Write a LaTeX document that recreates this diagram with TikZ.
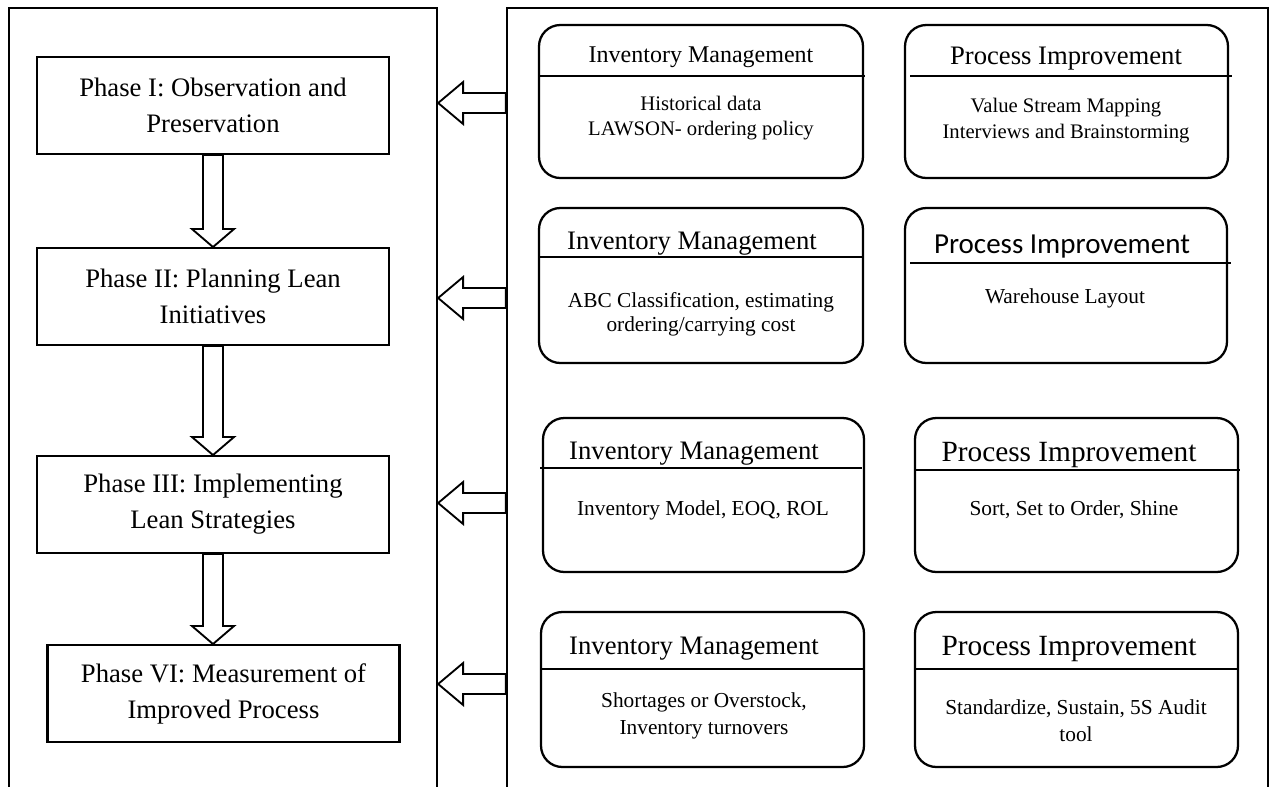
\documentclass[tikz,border=0pt]{standalone}
\usepackage{fontspec}
\setmainfont{Liberation Serif}
\newfontfamily\calibrifont{Carlito}
\usetikzlibrary{calc,fit}

\tikzset{
	panel/.style={draw, line width=1.7pt, inner sep=0pt},
	phase/.style={draw, line width=1.7pt, minimum width=264pt, minimum height=72.5pt,
		align=center, font=\fontsize{20}{27}\selectfont},
	group/.style={draw, line width=1.7pt, rounded corners=16pt, inner sep=0pt},
	rule/.style={line width=1.4pt},
	head/.style={inner sep=0pt, font=\fontsize{20}{24}\selectfont},
	body/.style={inner sep=0pt, align=center, font=\fontsize{16}{19.5}\selectfont},
	downblock/.style={draw, line width=1.4pt, fill=white, to path={
		($(\tikztostart)+(-10,0)$) -- ($(\tikztotarget)+(-10,-18)$) -- ($(\tikztotarget)+(-21,-18)$)
		-- (\tikztotarget) -- ($(\tikztotarget)+(21,-18)$) -- ($(\tikztotarget)+(10,-18)$)
		-- ($(\tikztostart)+(10,0)$) -- cycle}},
	leftblock/.style={draw, line width=1.4pt, fill=white, to path={
		($(\tikztostart)+(0,-10)$) -- ($(\tikztotarget)+(25,-10)$) -- ($(\tikztotarget)+(25,-21)$)
		-- (\tikztotarget) -- ($(\tikztotarget)+(25,21)$) -- ($(\tikztotarget)+(25,10)$)
		-- ($(\tikztostart)+(0,10)$) -- cycle}}
}

\begin{document}
\begin{tikzpicture}[x=0.75pt,y=-0.75pt]
	\useasboundingbox (0,0) rectangle (1271,786);
	\clip (0,0) rectangle (1271,786);
	% the two panels, open at the bottom
	\node[panel, fit={(9,8) (437,800)}] (lpanel) {};
	\node[panel, fit={(507,8) (1268,800)}] (rpanel) {};
	% phases
	\node[phase] (ph1) at (213,105.5) {Phase I: Observation and\\Preservation};
	\node[phase] (ph2) at (213,296.5) {Phase II: Planning Lean\\Initiatives};
	\node[phase] (ph3) at (213,504.5) {Phase III: Implementing\\Lean Strategies};
	\node[phase] (ph4) at (223.5,693.5) {Phase VI: Measurement of\\Improved Process};
	\coordinate (t3) at (ph3.south |- ph4.north);
	\draw[downblock] (ph1.south) to (ph2.north);
	\draw[downblock] (ph2.south) to (ph3.north);
	\draw[downblock] (ph3.south) to (t3);
	% arrows from the right panel
	\foreach \y [count=\i] in {103,298,503,684} {
		\coordinate (a\i) at (0,\y);
		\draw[leftblock] (rpanel.west |- a\i) to (lpanel.east |- a\i);
	}
	% row 1
	\node[group, fit={(539,25) (863,178)}] (im1) {};
	\node[head, font=\fontsize{18}{22}\selectfont] (im1h) at (701,57) {Inventory Management};
	\draw[rule] (539,76) -- (865,76);
	\node[body, font=\fontsize{15.5}{19}\selectfont] (im1b) at (701,118) {Historical data\\LAWSON- ordering policy};
	\node[group, fit={(905,25) (1228,178)}] (pi1) {};
	\node[head] (pi1h) at (1066,59) {Process Improvement};
	\draw[rule] (910,76) -- (1232,76);
	\node[body, font=\fontsize{15.5}{19.5}\selectfont] (pi1b) at (1066,121) {Value Stream Mapping\\Interviews and Brainstorming};
	% row 2
	\node[group, fit={(539,208) (863,363)}] (im2) {};
	\node[head] (im2h) at (692,244) {Inventory Management};
	\draw[rule] (539,257) -- (863,257);
	\node[body, font=\fontsize{16}{18}\selectfont] (im2b) at (701,314) {ABC Classification, estimating\\ordering/carrying cost};
	\node[group, fit={(905,208) (1227,363)}] (pi2) {};
	\node[head, font=\calibrifont\fontsize{21.75}{26}\selectfont] (pi2h) at (1062,247) {Process Improvement};
	\draw[rule] (910,263) -- (1231,263);
	\node[body] (pi2b) at (1065,298) {Warehouse Layout};
	% row 3
	\node[group, fit={(543,418) (864,572)}] (im3) {};
	\node[head] (im3h) at (694,454) {Inventory Management};
	\draw[rule] (540,468) -- (862,468);
	\node[body] (im3b) at (703,510) {Inventory Model, EOQ, ROL};
	\node[group, fit={(915,418) (1238,572)}] (pi3) {};
	\node[head, font=\fontsize{22}{26}\selectfont] (pi3h) at (1069,455) {Process Improvement};
	\draw[rule] (915,470) -- (1240,470);
	\node[body] (pi3b) at (1074,510) {Sort, Set to Order, Shine};
	% row 4
	\node[group, fit={(541,612) (864,767)}] (im4) {};
	\node[head] (im4h) at (694,649) {Inventory Management};
	\draw[rule] (541,669) -- (864,669);
	\node[body, font=\fontsize{16}{20}\selectfont] (im4b) at (704,716) {Shortages or Overstock,\\Inventory turnovers};
	\node[group, fit={(915,612) (1238,767)}] (pi4) {};
	\node[head, font=\fontsize{22}{26}\selectfont] (pi4h) at (1069,649) {Process Improvement};
	\draw[rule] (915,669) -- (1238,669);
	\node[body, font=\fontsize{16}{20.5}\selectfont] (pi4b) at (1076,721) {Standardize, Sustain, 5S Audit\\tool};
\end{tikzpicture}
\end{document}
